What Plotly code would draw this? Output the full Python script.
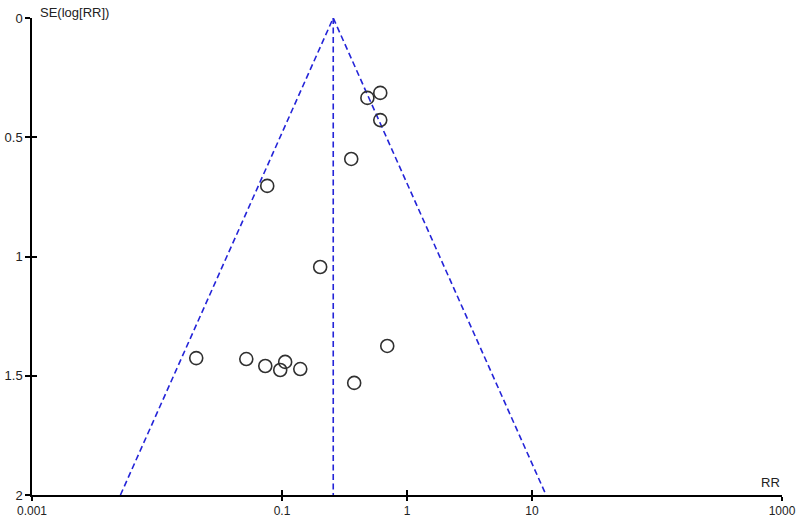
import numpy as np
import plotly.graph_objects as go

# Study data: risk ratio and standard error of log(RR)
rr = [0.611, 0.482, 0.611, 0.358, 0.0762, 0.202, 0.695, 0.0206, 0.0518, 0.0735, 0.106, 0.0968, 0.140, 0.378]
se = [0.314, 0.335, 0.428, 0.591, 0.704, 1.044, 1.375, 1.426, 1.430, 1.459, 1.442, 1.476, 1.472, 1.530]
pooled_rr = 0.257
se_max = 2.0

x_tickvals = [0.001, 0.1, 1, 10, 1000]
x_ticktext = ["0.001", "0.1", "1", "10", "1000"]
y_tickvals = [0, 0.5, 1, 1.5, 2]
y_ticktext = ["0", "0.5", "1", "1.5", "2"]

lnp = np.log(pooled_rr)
funnel_x = [np.exp(lnp - 1.96 * se_max), pooled_rr, np.exp(lnp + 1.96 * se_max)]
funnel_y = [se_max, 0, se_max]

blue = "#2424d8"
dash = "6px,3.5px"
fig = go.Figure()
fig.add_trace(go.Scatter(x=funnel_x, y=funnel_y, mode="lines",
                         line=dict(color=blue, width=1.6, dash=dash),
                         hoverinfo="skip", showlegend=False))
fig.add_trace(go.Scatter(x=[pooled_rr, pooled_rr], y=[0, se_max], mode="lines",
                         line=dict(color=blue, width=1.6, dash=dash),
                         hoverinfo="skip", showlegend=False))
fig.add_trace(go.Scatter(x=rr, y=se, mode="markers",
                         marker=dict(symbol="circle-open", size=13,
                                     color="#303030", line=dict(width=1.6)),
                         showlegend=False))
# invisible trace to activate the inner-tick overlay axes
fig.add_trace(go.Scatter(x=[pooled_rr], y=[0], xaxis="x2", yaxis="y2", mode="markers",
                         marker=dict(opacity=0), hoverinfo="skip", showlegend=False))

font = dict(family="Liberation Sans, Arial, sans-serif", size=13, color="#222222")
xfont = dict(family="Liberation Sans, Arial, sans-serif", size=12, color="#222222")
common = dict(showgrid=False, zeroline=False, tickcolor="black", tickwidth=1.5, automargin=False)
fig.update_layout(
    width=800, height=517,
    margin=dict(l=32, r=18, t=18, b=22),
    paper_bgcolor="white", plot_bgcolor="white",
    font=font,
    xaxis=dict(type="log", range=[-3, 3], tickvals=x_tickvals, ticktext=x_ticktext,
               showline=True, linecolor="black", linewidth=1.5,
               ticks="outside", ticklen=4, tickfont=xfont, **common),
    yaxis=dict(range=[2, 0], tickvals=y_tickvals, ticktext=y_ticktext,
               showline=True, linecolor="black", linewidth=1.5,
               ticks="outside", ticklen=5, tickfont=font, **common),
    xaxis2=dict(type="log", range=[-3, 3], tickvals=x_tickvals, overlaying="x",
                anchor="y2", side="bottom", ticks="inside", ticklen=5,
                showticklabels=False, showline=False, **common),
    yaxis2=dict(range=[2, 0], tickvals=y_tickvals, overlaying="y", anchor="x2",
                side="left", ticks="inside", ticklen=5,
                showticklabels=False, showline=False, **common),
    annotations=[
        dict(text="SE(log[RR])", xref="paper", yref="paper", x=0.0, y=1.0,
             xanchor="left", yanchor="bottom", xshift=6, yshift=-4, showarrow=False, font=font),
        dict(text="RR", xref="paper", yref="paper", x=1.0, y=0.0,
             xanchor="right", yanchor="bottom", xshift=0, yshift=3, showarrow=False, font=font),
    ],
)
fig.write_html("out.html", config={"displayModeBar": False},
               post_script="document.body.style.margin='0';document.body.style.overflow='hidden';")
